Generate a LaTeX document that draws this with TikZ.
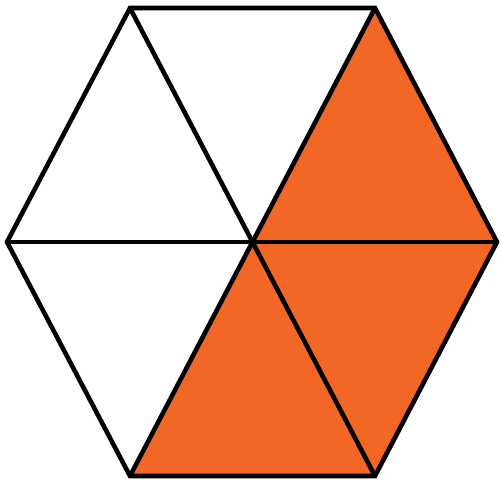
\documentclass[tikz,border=0pt]{standalone}
\usepackage{tikz}
\definecolor{hexorange}{HTML}{F26626}

\begin{document}
\begin{tikzpicture}[x=0.02cm,y=-0.02cm,line join=miter,line width=2.6pt]
\useasboundingbox (0,0) rectangle (501,485);
\coordinate (o) at (253,242);
\coordinate (w) at (7,242);
\coordinate (nw) at (130,8);
\coordinate (ne) at (375,8);
\coordinate (e) at (497,242);
\coordinate (se) at (375,476);
\coordinate (sw) at (130,476);
% shaded pieces
\fill[hexorange] (o) -- (ne) -- (e) -- (se) -- (sw) -- cycle;
% outline and spokes
\draw (w) -- (nw) -- (ne) -- (e) -- (se) -- (sw) -- cycle;
\draw (w) -- (e);
\draw (nw) -- (se);
\draw (ne) -- (sw);
\end{tikzpicture}
\end{document}
